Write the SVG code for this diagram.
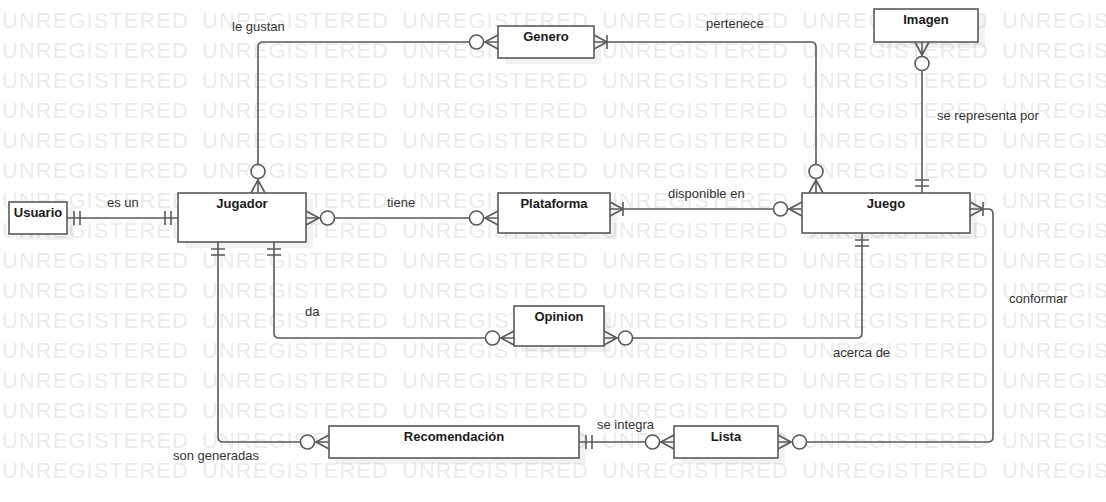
<svg xmlns="http://www.w3.org/2000/svg" width="1106" height="502" viewBox="0 0 1106 502">
<style>
.ent{fill:#fff;stroke:#595959;stroke-width:1.6}
.sh{fill:#000;opacity:0.05}
.et{font-family:"Liberation Sans",Arial,sans-serif;font-size:13px;font-weight:bold;fill:#1a1a1a;text-anchor:middle}
.lb{font-family:"Liberation Sans",Arial,sans-serif;font-size:13px;fill:#333}
.cn{fill:none;stroke:#595959;stroke-width:1.6}
.wm{font-family:"Liberation Sans",Arial,sans-serif;font-size:22px;fill:#ebebeb}
</style>
<defs>
<pattern id="wmp" x="0" y="0" width="200" height="30" patternUnits="userSpaceOnUse">
<text class="wm" x="2" y="28" textLength="186" lengthAdjust="spacing">UNREGISTERED</text>
</pattern>
<marker id="zm" markerUnits="userSpaceOnUse" viewBox="-32 -10 34 20" refX="0" refY="0" markerWidth="34" markerHeight="20" orient="auto-start-reverse" overflow="visible">
<path d="M-13,0 L0,-7 M-13,0 L0,7" fill="none" stroke="#595959" stroke-width="1.6"/>
<circle cx="-21.5" cy="0" r="7" fill="#fff" stroke="#595959" stroke-width="1.6"/>
</marker>
<marker id="om" markerUnits="userSpaceOnUse" viewBox="-32 -10 34 20" refX="0" refY="0" markerWidth="34" markerHeight="20" orient="auto-start-reverse" overflow="visible">
<path d="M-13,0 L0,-7 M-13,0 L0,7 M-13,-7 V7" fill="none" stroke="#595959" stroke-width="1.6"/>
</marker>
<marker id="oo" markerUnits="userSpaceOnUse" viewBox="-32 -10 34 20" refX="0" refY="0" markerWidth="34" markerHeight="20" orient="auto-start-reverse" overflow="visible">
<path d="M-7,-7 V7 M-13,-7 V7" fill="none" stroke="#595959" stroke-width="1.6"/>
</marker>
</defs>
<rect x="0" y="0" width="1106" height="481" fill="url(#wmp)"/>
<g id="shadows">
<rect class="sh" x="16" y="208" width="58" height="32"/>
<rect class="sh" x="185" y="199" width="128" height="49"/>
<rect class="sh" x="505" y="32" width="96" height="32"/>
<rect class="sh" x="505" y="199" width="112" height="40"/>
<rect class="sh" x="881" y="15" width="104" height="33"/>
<rect class="sh" x="809" y="199" width="168" height="40"/>
<rect class="sh" x="521" y="312" width="90" height="40"/>
<rect class="sh" x="336" y="432" width="250" height="32"/>
<rect class="sh" x="681" y="432" width="104" height="32"/>
</g>
<g id="connectors">
<path class="cn" d="M67,218 H178" marker-start="url(#oo)" marker-end="url(#oo)"/>
<path class="cn" d="M306,218 H498" marker-start="url(#zm)" marker-end="url(#zm)"/>
<path class="cn" d="M610,209 H802" marker-start="url(#om)" marker-end="url(#zm)"/>
<path class="cn" d="M258,193 V47 Q258,42 263,42 H498" marker-start="url(#zm)" marker-end="url(#zm)"/>
<path class="cn" d="M594,42 H811 Q816,42 816,47 V193" marker-start="url(#om)" marker-end="url(#zm)"/>
<path class="cn" d="M922,42 V193" marker-start="url(#zm)" marker-end="url(#oo)"/>
<path class="cn" d="M970,209 H988 Q993,209 993,214 V437 Q993,442 988,442 H778" marker-start="url(#om)" marker-end="url(#zm)"/>
<path class="cn" d="M862,233 V333 Q862,338 857,338 H604" marker-start="url(#oo)" marker-end="url(#zm)"/>
<path class="cn" d="M274,242 V333 Q274,338 279,338 H514" marker-start="url(#oo)" marker-end="url(#zm)"/>
<path class="cn" d="M218,242 V437 Q218,442 223,442 H329" marker-start="url(#oo)" marker-end="url(#zm)"/>
<path class="cn" d="M579,442 H674" marker-start="url(#oo)" marker-end="url(#zm)"/>
</g>
<g id="labels">
<text class="lb" x="232" y="31">le gustan</text>
<text class="lb" x="706" y="28">pertenece</text>
<text class="lb" x="107" y="207">es un</text>
<text class="lb" x="387" y="207">tiene</text>
<text class="lb" x="668" y="198">disponible en</text>
<text class="lb" x="937" y="120">se representa por</text>
<text class="lb" x="305" y="316">da</text>
<text class="lb" x="833" y="357">acerca de</text>
<text class="lb" x="1009" y="303">conformar</text>
<text class="lb" x="597" y="429">se integra</text>
<text class="lb" x="173" y="460">son generadas</text>
</g>
<g id="usuario"><rect class="ent" x="9" y="202" width="58" height="32"/><text class="et" x="38" y="217">Usuario</text></g>
<g id="jugador"><rect class="ent" x="178" y="193" width="128" height="49"/><text class="et" x="242" y="208">Jugador</text></g>
<g id="genero"><rect class="ent" x="498" y="26" width="96" height="32"/><text class="et" x="546" y="41">Genero</text></g>
<g id="plataforma"><rect class="ent" x="498" y="193" width="112" height="40"/><text class="et" x="554" y="208">Plataforma</text></g>
<g id="imagen"><rect class="ent" x="874" y="9" width="104" height="33"/><text class="et" x="926" y="24">Imagen</text></g>
<g id="juego"><rect class="ent" x="802" y="193" width="168" height="40"/><text class="et" x="886" y="208">Juego</text></g>
<g id="opinion"><rect class="ent" x="514" y="306" width="90" height="40"/><text class="et" x="559" y="321">Opinion</text></g>
<g id="recomendacion"><rect class="ent" x="329" y="426" width="250" height="32"/><text class="et" x="454" y="441">Recomendación</text></g>
<g id="lista"><rect class="ent" x="674" y="426" width="104" height="32"/><text class="et" x="726" y="441">Lista</text></g>
</svg>
